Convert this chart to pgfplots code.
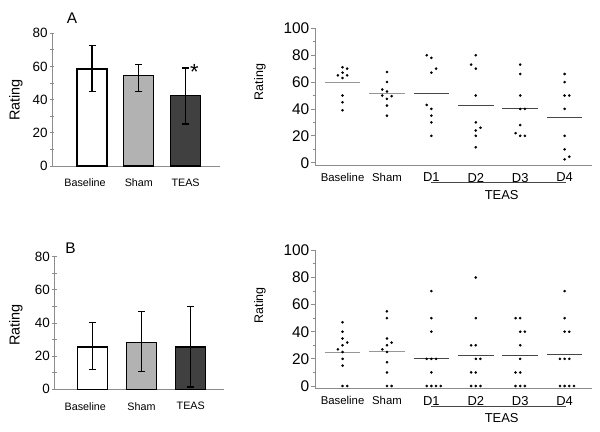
\documentclass[border=0pt]{standalone}
\usepackage{pgfplots}
\pgfplotsset{compat=1.18}
\usepackage{fontspec}
\setmainfont{Liberation Sans}
\definecolor{axgray}{RGB}{140,140,140}
\definecolor{shamfill}{RGB}{178,178,178}
\definecolor{teasfill}{RGB}{64,64,64}
\definecolor{meanlight}{RGB}{150,150,150}
\definecolor{meandark}{RGB}{70,70,70}
\pgfplotsset{
  barstyle/.style={
    scale only axis, anchor=south west, clip=false,
    axis x line*=bottom, axis y line*=left,
    axis line style={axgray, line width=0.9bp},
    ymin=0, ymax=80,
    ytick={0,20,...,80}, minor ytick={10,30,50,70},
    tick align=center, major tick length=4.5bp, minor tick length=4.5bp,
    y tick style={axgray, line width=0.9bp},
    x tick style={draw=none},
    xtick={0,1,2},
    xticklabels={\hspace*{-14bp}Baseline, Sham, TEAS},
    xticklabel style={font=\fontsize{10.8}{12}\selectfont, yshift=-5bp},
    yticklabel style={font=\fontsize{13.5}{14}\selectfont, inner xsep=2bp},
    /pgf/number format/assume math mode=true,
    ybar, bar shift=0pt,
  },
  barplot/.style={draw=black, line width=1.1bp,
    error bars/y dir=both, error bars/y explicit,
    error bars/error bar style={black, line width=1.1bp},
    error bars/error mark options={black, line width=1.1bp, mark size=3.5bp, rotate=90}},
  dotstyle/.style={
    scale only axis, anchor=south west, clip=false,
    axis x line*=bottom, axis y line*=left,
    axis line style={axgray, line width=0.9bp},
    xmin=-0.62, xmax=5.61, ymin=-1.7, ymax=100,
    ytick={0,20,...,100}, minor y tick num=1,
    tick align=outside, major tick length=4.5bp, minor tick length=2.5bp,
    y tick style={axgray, line width=0.8bp},
    x tick style={draw=none},
    xtick={0,...,5},
    xticklabels={{\fontsize{11.4}{12}\selectfont Baseline},{\fontsize{11.4}{12}\selectfont Sham},D1,D2,D3,D4},
    xticklabel style={font=\fontsize{13}{14}\selectfont},
    yticklabel style={font=\fontsize{15.5}{16}\selectfont, inner xsep=1bp},
    /pgf/number format/assume math mode=true,
  },
  dots/.style={only marks, mark=*, mark size=1.1bp, black},
  mlight/.style={meanlight, line width=1.3bp},
  mdark/.style={meandark, line width=0.9bp},
}
\begin{document}
\begin{tikzpicture}[x=1bp,y=1bp]
\path[use as bounding box] (0,0) rectangle (600,431);

% ---------------- Panel A bars ----------------
\begin{axis}[barstyle, at={(52bp,265bp)}, width=168bp, height=132.7bp,
  xmin=-0.855, xmax=2.735, bar width=0.64]
\addplot[fill=white, barplot] coordinates {(0,58.5) += (0,14.1) -= (0,13.5)};
\addplot[fill=shamfill, barplot] coordinates {(1,54.3) += (0,7.0) -= (0,9.3)};
\addplot[fill=teasfill, barplot] coordinates {(2,42.4) += (0,16.7) -= (0,17.1)};
\end{axis}

% ---------------- Panel B bars ----------------
\begin{axis}[barstyle, at={(54.3bp,41.7bp)}, width=169.7bp, height=132.6bp,
  xmin=-0.772, xmax=2.675, bar width=0.61]
\addplot[fill=white, barplot] coordinates {(0,25.5) += (0,14.9) -= (0,13.4)};
\addplot[fill=shamfill, barplot] coordinates {(1,28.5) += (0,18.7) -= (0,17.8)};
\addplot[fill=teasfill, barplot] coordinates {(2,25.5) += (0,24.3) -= (0,24.1)};
\end{axis}

% ---------------- Panel A scatter ----------------
\begin{axis}[dotstyle, at={(315bp,266bp)}, width=276.7bp, height=136.7bp]
\addplot[mlight] coordinates {(-0.4,59.5) (0.4,59.5)};
\addplot[mlight] coordinates {(0.6,51.3) (1.4,51.3)};
\addplot[mdark] coordinates {(1.6,51.9) (2.4,51.9)};
\addplot[mdark] coordinates {(2.6,42.7) (3.4,42.7)};
\addplot[mdark] coordinates {(3.6,40.0) (4.4,40.0)};
\addplot[mdark] coordinates {(4.6,33.8) (5.4,33.8)};
\addplot[dots] coordinates {
 (0,71) (0.105,70) (-0.105,65) (0,67) (0.105,65) (0,63) (0,50) (0,45) (0,39)
 (1,67.5) (1,60) (0.895,54.5) (1,53) (0.895,50) (1.105,49.5) (1,47.5) (1,42.5) (1,35)
 (1.895,80) (2,78) (2.105,70) (2,67) (1.895,43) (2,40) (2,35) (2,30) (2,20)
 (3,80) (2.895,73) (3,70) (3,50) (3,30) (3.105,26) (3,24) (3,20) (3,11.5)
 (4,73) (4,66) (4,50) (4,40) (4.105,40) (4,28) (3.895,22) (4,20) (4.105,20)
 (5,66) (5,60) (5,50) (5.105,50) (5,40) (5,20) (5,10) (5.105,4.5) (5,2.5)
};
\end{axis}

% ---------------- Panel B scatter ----------------
\begin{axis}[dotstyle, at={(315bp,42.7bp)}, width=276.7bp, height=138bp]
\addplot[mlight] coordinates {(-0.4,24.6) (0.4,24.6)};
\addplot[mlight] coordinates {(0.6,25.6) (1.4,25.6)};
\addplot[mdark] coordinates {(1.6,20.4) (2.4,20.4)};
\addplot[mdark] coordinates {(2.6,22.6) (3.4,22.6)};
\addplot[mdark] coordinates {(3.6,22.6) (4.4,22.6)};
\addplot[mdark] coordinates {(4.6,23.6) (5.4,23.6)};
\addplot[dots] coordinates {
 (0,47) (0,40) (0,35) (0.105,32) (0,30) (-0.105,27) (0,25) (0,20) (0,15) (0,0) (0.105,0)
 (1,55) (1,50) (1,35) (1.105,32) (1,30) (0.895,27) (1,25) (1,17.5) (1,10) (1,0) (1.105,0)
 (2,70) (2,50) (2,40) (1.895,20) (2,20) (2.105,20) (2,10) (1.895,0) (2,0) (2.105,0) (2.21,0)
 (3,80) (3,50) (2.895,30) (3,30) (3,20) (3.105,20) (2.895,10) (3,10) (2.895,0) (3,0) (3.105,0)
 (3.895,50) (4,50) (4,40) (4.105,40) (4,30) (4,20) (3.895,10) (4,10) (3.895,0) (4,0) (4.105,0)
 (5,70) (5,50) (5,40) (5.105,40) (4.895,20) (5,20) (5.105,20) (4.895,0) (5,0) (5.105,0) (5.21,0)
};
\end{axis}

% ---------------- Labels ----------------
\node[rotate=90, font=\fontsize{14.5}{16}\selectfont] at (16,331) {Rating};
\node[rotate=90, font=\fontsize{14.5}{16}\selectfont] at (16,106) {Rating};
\node[rotate=90, font=\fontsize{12.5}{14}\selectfont] at (260,349) {Rating};
\node[rotate=90, font=\fontsize{12.5}{14}\selectfont] at (260,125.7) {Rating};
\node[font=\fontsize{15.5}{16}\selectfont] at (72,413) {A};
\node[font=\fontsize{15.5}{16}\selectfont] at (70.5,182.7) {B};
\node[font=\fontsize{22}{22}\selectfont] at (194.5,359) {*};
\draw[meandark, line width=0.8bp] (430.7,248.3) -- (565.7,248.3);
\node[font=\fontsize{13}{14}\selectfont] at (501.7,236) {TEAS};
\draw[meandark, line width=0.8bp] (430.7,25) -- (565.7,25);
\node[font=\fontsize{13}{14}\selectfont] at (501.7,13.3) {TEAS};
\end{tikzpicture}
\end{document}
